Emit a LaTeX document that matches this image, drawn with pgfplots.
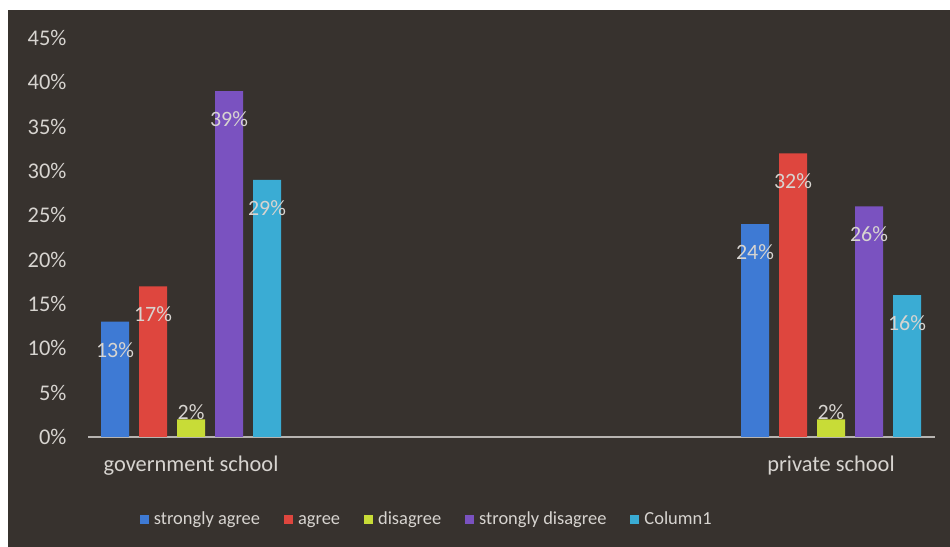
\documentclass[border=0pt]{standalone}
\usepackage{pgfplots}
\pgfplotsset{compat=1.18}
\usepackage{fontspec}
\setmainfont{Carlito}
\definecolor{bg}{RGB}{55,50,46}
\definecolor{txt}{RGB}{215,212,208}
\definecolor{cblue}{RGB}{62,122,212}
\definecolor{cred}{RGB}{222,70,62}
\definecolor{cyel}{RGB}{200,220,55}
\definecolor{cpur}{RGB}{122,82,192}
\definecolor{ccyan}{RGB}{58,172,212}
\begin{document}
\begin{tikzpicture}[x=1bp,y=1bp]
\fill[white] (0,0) rectangle (950,547);
\fill[bg] (8,0) rectangle (950,537);
\begin{axis}[
  at={(88bp,110bp)}, anchor=south west,
  scale only axis, width=847bp, height=399bp,
  ybar=10bp, bar width=28bp,
  xmin=-0.161, xmax=1.1625, ymin=0, ymax=45,
  xtick={0,1}, xticklabels={government school, private school},
  ytick={0,5,...,45},
  /pgf/number format/assume math mode=true,
  yticklabel={\pgfmathprintnumber{\tick}\%},
  axis x line*=bottom, axis y line*=left,
  x axis line style={draw=txt!85!black, line width=1.5bp, -},
  y axis line style={draw=none},
  major tick length=0pt,
  tick style={draw=none},
  ticklabel style={text=txt, font=\fontsize{22.5}{26}\selectfont},
  yticklabel style={xshift=-18bp},
  xticklabel style={yshift=-15bp},
  point meta=y,
  nodes near coords={\pgfmathprintnumber{\pgfplotspointmeta}\%},
  every node near coord/.append style={text=txt, font=\fontsize{22}{26}\selectfont, anchor=center, yshift=-28bp},
  legend style={draw=none, fill=none, text=txt, font=\fontsize{18.5}{20}\selectfont,
    legend columns=5, at={(0.40,-0.212)}, anchor=center,
    nodes={text depth=0.22em, text height=0.72em},
    /tikz/every even column/.append style={column sep=22bp}},
  legend image code/.code={\fill[#1] (0bp,-2.5bp) rectangle (9bp,6.5bp); \path (0bp,0bp) (12bp,0bp);},
]
\addplot[fill=cblue, draw=none] coordinates {(0,13) (1,24)};
\addplot[fill=cred, draw=none] coordinates {(0,17) (1,32)};
\addplot[fill=cyel, draw=none, every node near coord/.append style={yshift=35bp}] coordinates {(0,2) (1,2)};
\addplot[fill=cpur, draw=none] coordinates {(0,39) (1,26)};
\addplot[fill=ccyan, draw=none] coordinates {(0,29) (1,16)};
\legend{strongly agree, agree, disagree, strongly disagree, Column1}
\end{axis}
\end{tikzpicture}
\end{document}
